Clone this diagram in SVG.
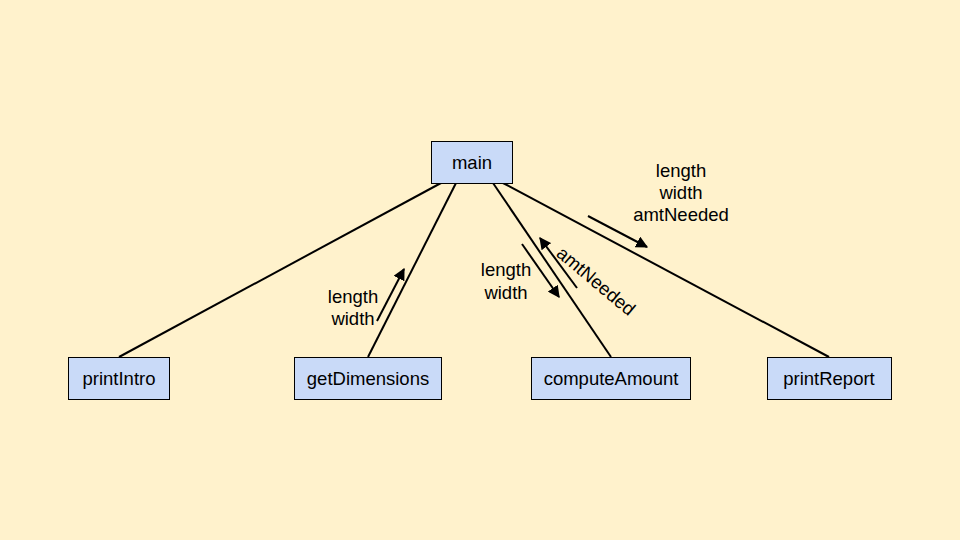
<svg xmlns="http://www.w3.org/2000/svg" width="960" height="540" viewBox="0 0 960 540">
<defs>
<style>
.box{fill:#c9daf8;stroke:#000;stroke-width:1}
.t{font-family:"Liberation Sans",Arial,sans-serif;font-size:18.5px;fill:#000;text-anchor:middle}
.c{stroke:#000;stroke-width:2;fill:none}
.a{stroke:#000;stroke-width:2;fill:none;marker-end:url(#ah)}
</style>
<marker id="ah" viewBox="0 0 10 10" refX="9" refY="5" markerWidth="6" markerHeight="6" orient="auto" markerUnits="strokeWidth">
<path d="M0,0 L10,5 L0,10 z" fill="#000"/>
</marker>
</defs>
<rect width="960" height="540" fill="#fff2cc"/>
<g id="connectors">
<line class="c" x1="441" y1="183" x2="119" y2="357"/>
<line class="c" x1="456" y1="183" x2="368" y2="357"/>
<line class="c" x1="493" y1="183" x2="611" y2="357"/>
<line class="c" x1="503" y1="183" x2="829" y2="357"/>
<line class="a" x1="377" y1="321" x2="404" y2="269"/>
<line class="a" x1="522" y1="244" x2="559" y2="297"/>
<line class="a" x1="577" y1="288" x2="540" y2="238"/>
<line class="a" x1="588" y1="216" x2="647" y2="247"/>
</g>
<g id="labels">
<text class="t" x="681" y="177">length</text>
<text class="t" x="681" y="199">width</text>
<text class="t" x="681" y="221">amtNeeded</text>
<text class="t" x="353" y="303">length</text>
<text class="t" x="353" y="325">width</text>
<text class="t" x="506" y="276">length</text>
<text class="t" x="506" y="299">width</text>
<text class="t" transform="translate(592,286) rotate(40)" x="0" y="0">amtNeeded</text>
</g>
<g id="main"><rect class="box" x="431.5" y="141.5" width="81" height="42"/><text class="t" x="472" y="169">main</text></g>
<g id="printIntro"><rect class="box" x="68.5" y="357.5" width="101" height="42"/><text class="t" x="119" y="385">printIntro</text></g>
<g id="getDimensions"><rect class="box" x="294.5" y="357.5" width="147" height="42"/><text class="t" x="368" y="385">getDimensions</text></g>
<g id="computeAmount"><rect class="box" x="531.5" y="357.5" width="159" height="42"/><text class="t" x="611" y="385">computeAmount</text></g>
<g id="printReport"><rect class="box" x="767.5" y="357.5" width="124" height="42"/><text class="t" x="829" y="385">printReport</text></g>
</svg>
